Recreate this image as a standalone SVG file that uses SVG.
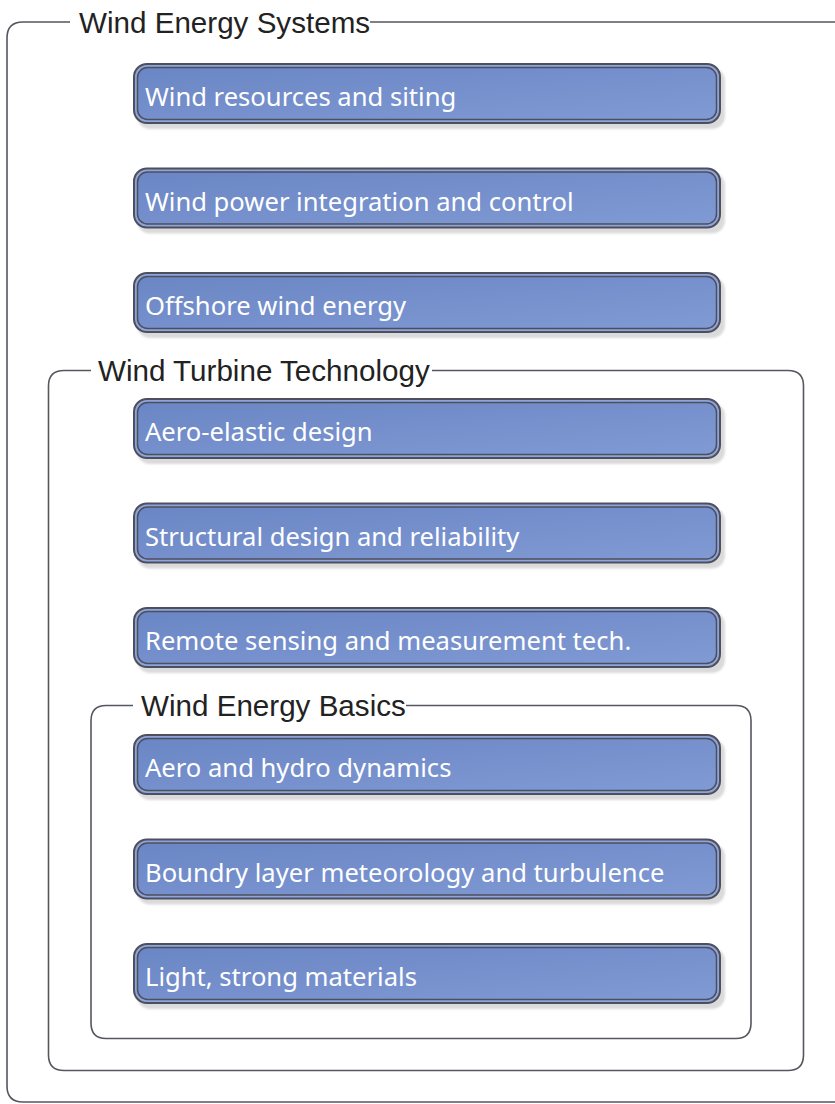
<svg xmlns="http://www.w3.org/2000/svg" width="835" height="1104" viewBox="0 0 835 1104">
<style>
.frame{fill:none;stroke:#56575f;stroke-width:1.6}
.ftitle{font-family:"Liberation Sans",Arial,sans-serif;font-size:29.6px;fill:#222}
.shadow{fill:#dadada}
.outer{fill:#8ea4dc;stroke:#4e4f5c;stroke-width:2}
.inner{fill:url(#g);stroke:#4e4f5c;stroke-width:1.5}
.label{font-family:"Noto Sans","Open Sans",sans-serif;font-size:25.6px;fill:#ffffff}
</style>
<defs>
<linearGradient id="g" x1="0" y1="0" x2="1" y2="1">
<stop offset="0" stop-color="#6a86c4"/>
<stop offset="1" stop-color="#809ad4"/>
</linearGradient>
<filter id="b" x="-5%" y="-20%" width="110%" height="140%"><feGaussianBlur stdDeviation="1"/></filter>
<g id="nodeShape">
<rect class="shadow" x="137" y="5" width="588" height="61" rx="13" filter="url(#b)"/>
<rect class="outer" x="134" y="1" width="586" height="59" rx="13"/>
<rect class="inner" x="137.5" y="4.5" width="579" height="52" rx="10"/>
</g>
</defs>
<rect width="835" height="1104" fill="#ffffff"/>
<g id="frames">
<g id="frame-systems">
<path class="frame" d="M70,22 H23 Q7,22 7,38 V1086 Q7,1102 23,1102 H836 M370,22 H836"/>
<text class="ftitle" x="79" y="32.5">Wind Energy Systems</text>
</g>
<g id="frame-turbine">
<path class="frame" d="M91,370.5 H64 Q48.5,370.5 48.5,386 V1055 Q48.5,1070.5 64,1070.5 H788 Q803.5,1070.5 803.5,1055 V386 Q803.5,370.5 788,370.5 H432"/>
<text class="ftitle" x="98" y="381">Wind Turbine Technology</text>
</g>
<g id="frame-basics">
<path class="frame" d="M133,705.5 H106 Q91,705.5 91,721 V1023 Q91,1038.5 106,1038.5 H736 Q751,1038.5 751,1023 V721 Q751,705.5 736,705.5 H406"/>
<text class="ftitle" x="141" y="716">Wind Energy Basics</text>
</g>
</g>
<g id="connectors"/>
<g id="n1" transform="translate(0,63)"><use href="#nodeShape"/><text class="label" x="145" y="43">Wind resources and siting</text></g>
<g id="n2" transform="translate(0,167.5)"><use href="#nodeShape"/><text class="label" x="145" y="43">Wind power integration and control</text></g>
<g id="n3" transform="translate(0,272)"><use href="#nodeShape"/><text class="label" x="145" y="43">Offshore wind energy</text></g>
<g id="n4" transform="translate(0,398)"><use href="#nodeShape"/><text class="label" x="145" y="43">Aero-elastic design</text></g>
<g id="n5" transform="translate(0,502.5)"><use href="#nodeShape"/><text class="label" x="145" y="43">Structural design and reliability</text></g>
<g id="n6" transform="translate(0,607)"><use href="#nodeShape"/><text class="label" x="145" y="43">Remote sensing and measurement tech.</text></g>
<g id="n7" transform="translate(0,734)"><use href="#nodeShape"/><text class="label" x="145" y="43">Aero and hydro dynamics</text></g>
<g id="n8" transform="translate(0,838.5)"><use href="#nodeShape"/><text class="label" x="145" y="43">Boundry layer meteorology and turbulence</text></g>
<g id="n9" transform="translate(0,943)"><use href="#nodeShape"/><text class="label" x="145" y="43">Light, strong materials</text></g>
</svg>
